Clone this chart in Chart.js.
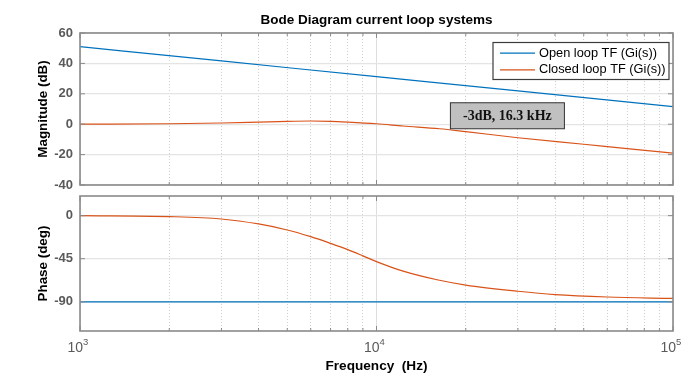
<!DOCTYPE html>
<html>
<head>
<meta charset="utf-8">
<script src="https://cdn.jsdelivr.net/npm/chart.js@4.4.0/dist/chart.umd.min.js"></script>
<style>
body{margin:0;background:#fff}
#wrap{position:relative;width:699px;height:380px;background:#fff}
.box{position:absolute;left:0;width:699px;height:190px}
</style>
</head>
<body>
<div id="wrap">
  <div class="box" style="top:0"><canvas id="mag"></canvas></div>
  <div class="box" style="top:190px"><canvas id="phase"></canvas></div>
</div>
<script>
// values
const freqOL = [1000, 3000, 10000, 30000, 100000]
const magOL = [51, 41.6, 31.3, 21.9, 11.5]
const phaseOL = [-90, -90, -90, -90, -90]

const freqCL = [1000, 2000, 3000, 4000, 5000, 6000, 7000, 8000, 10000, 12300, 16300, 20000, 30000, 50000, 70000, 100000]
const magCL = [0, 0.3, 0.8, 1.4, 1.9, 2.1, 1.9, 1.4, 0.3, -1.2, -3.0, -4.9, -8.9, -13.2, -16.1, -19]

const freqPh = [1000, 2000, 3000, 4000, 5000, 6000, 7000, 8000, 9000, 10000, 12300, 16000, 20000, 30000, 40000, 60000, 100000]
const phaseCL = [0, -1, -3.5, -8.7, -15, -22, -29, -35.5, -42, -48, -58, -67, -72.5, -79, -82.5, -85, -86.5]

const gridFreqs = [1000, 2000, 3000, 4000, 5000, 6000, 7000, 8000, 9000,
  10000, 20000, 30000, 40000, 50000, 60000, 70000, 80000, 90000, 100000]
const decadeExp = {1000: '3', 10000: '4', 100000: '5'}
const magTicks = [-40, -20, 0, 20, 40, 60]
const phaseTicks = [-90, -45, 0]
const names = ['Open loop TF (Gi(s))', 'Closed loop TF (Gi(s))']
const noteText = '-3dB, 16.3 kHz'
const noteAt = [16300, -3]

const blue = '#0072BD'
const orange = '#D95319'

function pts(xs, ys) {
  return xs.map((x, i) => ({x: x, y: ys[i]}))
}
function decade(v) {
  return v === 1000 || v === 10000 || v === 100000
}

function xAxis(bottomAxis) {
  return {
    type: 'logarithmic',
    min: 1000,
    max: 100000,
    afterBuildTicks: s => { s.ticks = gridFreqs.map(v => ({value: v})) },
    ticks: {display: false},
    grid: {
      drawTicks: false,
      color: c => (c.tick && decade(c.tick.value)) ? '#dedede' : '#cfcfcf',
      lineWidth: 1
    },
    border: {
      display: false,
      dash: c => (c.tick && !decade(c.tick.value)) ? [1, 2] : []
    },
    afterFit: s => {
      s.height = bottomAxis ? 49 : 0
      s.paddingLeft = 0
      s.paddingRight = 0
    },
    title: {
      display: bottomAxis,
      text: 'Frequency  (Hz)',
      color: '#000',
      font: {family: 'Liberation Sans', size: 13.6, weight: 'bold'},
      padding: {top: 0, bottom: 6}
    }
  }
}

function yAxis(label, lo, hi, tickList) {
  return {
    min: lo,
    max: hi,
    afterBuildTicks: s => { s.ticks = tickList.map(v => ({value: v})) },
    afterFit: s => {
      s.width = 52
      s.paddingTop = 0
      s.paddingBottom = 0
    },
    ticks: {
      color: '#5a5a5a',
      padding: 7,
      font: {family: 'Liberation Sans', size: 13, weight: 'bold'}
    },
    grid: {drawTicks: false, color: '#e4e4e4', lineWidth: 1.2},
    border: {display: false},
    title: {
      display: true,
      text: label,
      color: '#000',
      font: {family: 'Liberation Sans', size: 13.4, weight: 'bold'},
      padding: {top: 7, bottom: 0}
    }
  }
}

// axes box with inward tick marks
const frame = {
  id: 'frame',
  afterDatasetsDraw(chart) {
    const {ctx, chartArea: a, scales} = chart
    ctx.save()
    ctx.strokeStyle = '#8a8a8a'
    ctx.lineWidth = 1
    gridFreqs.forEach(v => {
      const px = scales.x.getPixelForValue(v)
      const len = decade(v) ? 5 : 3
      ctx.beginPath()
      ctx.moveTo(px, a.top); ctx.lineTo(px, a.top + len)
      ctx.moveTo(px, a.bottom); ctx.lineTo(px, a.bottom - len)
      ctx.stroke()
    })
    scales.y.ticks.forEach(t => {
      const py = scales.y.getPixelForValue(t.value)
      ctx.beginPath()
      ctx.moveTo(a.left, py); ctx.lineTo(a.left + 5, py)
      ctx.moveTo(a.right, py); ctx.lineTo(a.right - 5, py)
      ctx.stroke()
    })
    ctx.lineWidth = 1.6
    ctx.strokeRect(a.left, a.top, a.right - a.left, a.bottom - a.top)
    ctx.restore()
  }
}

const legendBox = {
  id: 'legendBox',
  afterDraw(chart) {
    const {ctx, chartArea: a} = chart
    const w = 176, h = 37
    const x = a.right - 4 - w, y = a.top + 9.5
    ctx.save()
    ctx.fillStyle = '#fff'
    ctx.fillRect(x, y, w, h)
    ctx.strokeStyle = '#3c3c3c'
    ctx.lineWidth = 1.2
    ctx.strokeRect(x, y, w, h)
    ctx.font = '12.8px "Liberation Sans"'
    ctx.textBaseline = 'middle'
    chart.data.datasets.forEach((ds, i) => {
      const ly = y + 10.6 + i * 16.7
      ctx.strokeStyle = ds.borderColor
      ctx.lineWidth = 1.2
      ctx.beginPath()
      ctx.moveTo(x + 7, ly); ctx.lineTo(x + 42, ly)
      ctx.stroke()
      ctx.fillStyle = '#000'
      ctx.fillText(ds.label, x + 46, ly)
    })
    ctx.restore()
  }
}

const note = {
  id: 'note',
  afterDraw(chart) {
    const {ctx, scales} = chart
    const px = scales.x.getPixelForValue(noteAt[0]) + 11
    const py = scales.y.getPixelForValue(noteAt[1])
    const w = 114, h = 26
    ctx.save()
    ctx.fillStyle = '#c0c0c0'
    ctx.fillRect(px, py - h, w, h)
    ctx.strokeStyle = '#333'
    ctx.lineWidth = 1
    ctx.strokeRect(px, py - h, w, h)
    ctx.fillStyle = '#111'
    ctx.font = 'bold 14px "Liberation Serif"'
    ctx.textAlign = 'center'
    ctx.textBaseline = 'middle'
    ctx.fillText(noteText, px + w / 2, py - h / 2 + 1)
    ctx.restore()
  }
}

const decadeLabels = {
  id: 'decadeLabels',
  afterDraw(chart) {
    const {ctx, scales, chartArea: a} = chart
    ctx.save()
    ctx.fillStyle = '#5a5a5a'
    ctx.textBaseline = 'middle'
    Object.keys(decadeExp).forEach(k => {
      const px = scales.x.getPixelForValue(+k)
      ctx.font = '14px "Liberation Sans"'
      ctx.textAlign = 'right'
      ctx.fillText('10', px + 3, a.bottom + 17)
      ctx.font = '9.5px "Liberation Sans"'
      ctx.textAlign = 'left'
      ctx.fillText(decadeExp[k], px + 3, a.bottom + 11)
    })
    ctx.restore()
  }
}

function line(label, data, color) {
  return {
    label: label,
    data: data,
    borderColor: color,
    backgroundColor: color,
    borderWidth: 1.2,
    pointRadius: 0,
    fill: false,
    cubicInterpolationMode: 'monotone'
  }
}

new Chart('mag', {
  type: 'line',
  data: {
    datasets: [
      line(names[0], pts(freqOL, magOL), blue),
      line(names[1], pts(freqCL, magCL), orange)
    ]
  },
  options: {
    responsive: true,
    maintainAspectRatio: false,
    animation: false,
    layout: {padding: {left: 28, right: 26, top: 0, bottom: 5}},
    scales: {
      x: xAxis(false),
      y: yAxis('Magnitude (dB)', -40, 60, magTicks)
    },
    plugins: {
      legend: {display: false},
      tooltip: {enabled: false},
      title: {
        display: true,
        fullSize: false,
        text: 'Bode Diagram current loop systems',
        color: '#000',
        font: {family: 'Liberation Sans', size: 13.5, weight: 'bold'},
        padding: {top: 12, bottom: 4.8}
      }
    }
  },
  plugins: [frame, legendBox, note]
})

new Chart('phase', {
  type: 'line',
  data: {
    datasets: [
      line(names[0], pts(freqOL, phaseOL), blue),
      line(names[1], pts(freqPh, phaseCL), orange)
    ]
  },
  options: {
    responsive: true,
    maintainAspectRatio: false,
    animation: false,
    layout: {padding: {left: 28, right: 26, top: 6, bottom: 0}},
    scales: {
      x: xAxis(true),
      y: yAxis('Phase (deg)', -120.5, 20.5, phaseTicks)
    },
    plugins: {
      legend: {display: false},
      tooltip: {enabled: false}
    }
  },
  plugins: [frame, decadeLabels]
})
</script>
</body>
</html>
